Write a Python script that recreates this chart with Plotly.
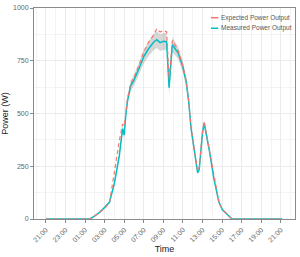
import plotly.graph_objects as go

times = [
    "2023-06-01 21:00", "2023-06-01 23:00", "2023-06-02 01:00", "2023-06-02 01:30",
    "2023-06-02 02:00", "2023-06-02 02:30", "2023-06-02 03:00", "2023-06-02 03:30",
    "2023-06-02 04:00", "2023-06-02 04:30", "2023-06-02 04:50", "2023-06-02 05:00",
    "2023-06-02 05:10", "2023-06-02 05:20", "2023-06-02 05:40", "2023-06-02 06:00",
    "2023-06-02 06:30", "2023-06-02 07:00", "2023-06-02 07:30", "2023-06-02 08:00",
    "2023-06-02 08:20", "2023-06-02 08:40", "2023-06-02 09:00", "2023-06-02 09:20",
    "2023-06-02 09:35", "2023-06-02 09:55", "2023-06-02 10:30", "2023-06-02 11:00",
    "2023-06-02 11:20", "2023-06-02 11:35", "2023-06-02 11:50", "2023-06-02 12:10",
    "2023-06-02 12:30", "2023-06-02 12:40", "2023-06-02 13:00", "2023-06-02 13:10",
    "2023-06-02 13:40", "2023-06-02 14:10", "2023-06-02 14:40", "2023-06-02 15:00",
    "2023-06-02 15:30", "2023-06-02 16:00", "2023-06-02 17:00", "2023-06-02 19:00",
    "2023-06-02 21:00", "2023-06-02 21:10",
]
measured = [
    0, 0, 0, 0,
    15, 32, 55, 80,
    170, 300, 428, 398,
    495, 560, 632, 658,
    712, 770, 808, 838,
    850, 836, 842, 840,
    622, 826, 788, 720,
    650, 560, 428, 332,
    220, 236, 410, 455,
    333, 190, 82, 46,
    22, 0, 0, 0,
    0, 0,
]
expected = [
    0, 0, 0, 0,
    15, 32, 50, 78,
    235, 370, 450, 440,
    505, 570, 642, 672,
    728, 792, 838, 872,
    902, 886, 893, 888,
    665, 846, 800, 726,
    655, 562, 432, 336,
    226, 245, 416, 462,
    336, 192, 84, 47,
    22, 0, 0, 0,
    0, 0,
]
band_halfwidth = [
    0, 0, 0, 0,
    2, 3, 4, 6,
    10, 15, 18, 18,
    20, 22, 24, 26,
    28, 32, 35, 38,
    40, 40, 40, 40,
    30, 35, 30, 26,
    22, 18, 14, 11,
    9, 9, 12, 13,
    10, 7, 4, 3,
    2, 0, 0, 0,
    0, 0,
]
series_names = ["Expected Power Output", "Measured Power Output"]
series_colors = ["#F8766D", "#00BFC4"]

lower = [m - b for m, b in zip(measured, band_halfwidth)]
upper = [m + b for m, b in zip(measured, band_halfwidth)]

fig = go.Figure()
fig.add_trace(go.Scatter(x=times, y=upper, mode="lines", line=dict(width=0),
                         showlegend=False, hoverinfo="skip"))
fig.add_trace(go.Scatter(x=times, y=lower, mode="lines", line=dict(width=0),
                         fill="tonexty", fillcolor="rgba(140,140,140,0.35)",
                         showlegend=False, hoverinfo="skip"))
fig.add_trace(go.Scatter(x=times, y=measured, mode="lines", name=series_names[1],
                         line=dict(color=series_colors[1], width=1.5), showlegend=False))
fig.add_trace(go.Scatter(x=times, y=expected, mode="lines", name=series_names[0],
                         line=dict(color=series_colors[0], width=1.2, dash="4px,3px"),
                         showlegend=False))

# manual compact legend (top-right inside panel)
leg_y = [0.954, 0.904]
for name, col, yy in zip(series_names, series_colors, leg_y):
    fig.add_shape(type="line", xref="paper", yref="paper",
                  x0=0.678, x1=0.706, y0=yy, y1=yy,
                  line=dict(color=col, width=1.5))
    fig.add_annotation(xref="paper", yref="paper", x=0.708, y=yy,
                       xanchor="left", yanchor="middle", showarrow=False,
                       text=name, font=dict(size=6.5, color="#555555"))

axis_common = dict(
    showline=True, linecolor="#8a8a8a", linewidth=1, mirror=True,
    ticks="outside", ticklen=3, tickcolor="#8a8a8a",
    showgrid=True, gridcolor="#ebebeb", gridwidth=0.7,
    tickfont=dict(family="Liberation Sans, Arial", size=7, color="#666666"),
    zeroline=False,
)

fig.update_layout(
    width=300, height=257,
    margin=dict(l=31, r=4, t=4, b=34),
    paper_bgcolor="white", plot_bgcolor="white",
    font=dict(family="Liberation Sans, Arial", color="#333333"),
    showlegend=False,
    xaxis=dict(
        type="date",
        range=["2023-06-01 19:47", "2023-06-02 22:27"],
        tickformat="%H:%M", dtick=7200000, tick0="2023-06-01 21:00",
        tickangle=-45,
        minor=dict(dtick=3600000, showgrid=True, gridcolor="#f3f3f3", gridwidth=0.6),
        title=dict(text="Time", font=dict(size=9, color="#222222"), standoff=3),
        **axis_common,
    ),
    yaxis=dict(
        range=[0, 1000],
        tickvals=[0, 250, 500, 750, 1000],
        minor=dict(tickvals=[125, 375, 625, 875], showgrid=True, gridcolor="#f3f3f3", gridwidth=0.6),
        title=dict(text="Power (W)", font=dict(size=9, color="#222222"), standoff=3),
        **axis_common,
    ),
)

fig.write_html("out.html")
